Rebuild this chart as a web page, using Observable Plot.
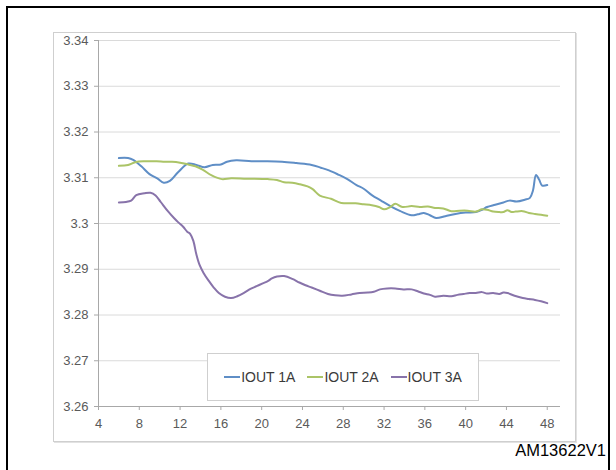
<!DOCTYPE html>
<html>
<head>
<meta charset="utf-8">
<script src="https://cdn.jsdelivr.net/npm/d3@7"></script>
<script src="https://cdn.jsdelivr.net/npm/@observablehq/plot@0.6"></script>
<style>
  html, body { margin: 0; padding: 0; background: #fff; }
  #page { position: relative; width: 616px; height: 470px; overflow: hidden; font-family: "Liberation Sans", Arial, sans-serif; }
  #frame { position: absolute; left: 6px; top: 6px; width: 604px; height: 480px; border: 2px solid #000; box-sizing: border-box; }
  #box { position: absolute; left: 53px; top: 32px; width: 523px; height: 410px; border: 1px solid #cfcfcf; box-shadow: 1px 1px 0 #e2e2e2; box-sizing: border-box; }
  #chart { position: absolute; left: 53px; top: 32px; }
  #legend { position: absolute; left: 207px; top: 353px; width: 272px; height: 48px; background: #fff; border: 1px solid #cfcfcf; box-sizing: border-box; display: flex; align-items: center; justify-content: center; gap: 12px; font-size: 14px; color: #3a3a3a; }
  #legend .item { display: flex; align-items: center; white-space: nowrap; }
  #legend .sw { display: inline-block; width: 16px; height: 2px; margin-right: 1px; }
  #code { position: absolute; right: 10px; top: 441px; font-size: 16.5px; color: #000; }
</style>
</head>
<body>
<div id="page">
  <div id="frame"></div>
  <div id="box"></div>
  <div id="chart"></div>
  <div id="legend"></div>
  <div id="code">AM13622V1</div>
</div>
<script>
const seriesNames = ["IOUT 1A", "IOUT 2A", "IOUT 3A"];
const seriesColors = ["#5f8ec6", "#abc467", "#8873aa"];

const xTicks = [4, 8, 12, 16, 20, 24, 28, 32, 36, 40, 44, 48];
const yTicks = [3.26, 3.27, 3.28, 3.29, 3.3, 3.31, 3.32, 3.33, 3.34];
const yTickLabels = ["3.26", "3.27", "3.28", "3.29", "3.3", "3.31", "3.32", "3.33", "3.34"];

const iout1A_x = [6, 6.9, 7.4, 8.2, 9.0, 9.8, 10.4, 11.0, 11.8, 12.8, 13.6, 14.4, 15.2, 16.0, 16.6, 17.5, 19.0, 20.5, 22.0, 23.4, 24.9, 25.8, 26.6, 27.5, 28.4, 29.3, 30.0, 30.8, 31.7, 32.7, 33.6, 34.7, 35.3, 35.9, 36.5, 37.1, 38.0, 39.0, 40.0, 41.0, 41.6, 42.1, 42.9, 43.7, 44.3, 45.0, 45.8, 46.3, 46.6, 46.9, 47.2, 47.5, 48];
const iout1A_y = [3.3143, 3.3143, 3.3139, 3.3125, 3.3108, 3.3098, 3.3089, 3.3093, 3.3112, 3.3131, 3.3128, 3.3123, 3.3128, 3.3129, 3.3135, 3.3138, 3.3136, 3.3136, 3.3135, 3.3132, 3.3128, 3.3122, 3.3116, 3.3107, 3.3097, 3.3084, 3.3076, 3.3062, 3.3050, 3.3037, 3.3027, 3.3018, 3.3020, 3.3023, 3.3018, 3.3012, 3.3016, 3.3021, 3.3024, 3.3025, 3.3030, 3.3036, 3.3041, 3.3046, 3.3050, 3.3048, 3.3052, 3.3056, 3.3072, 3.3106, 3.3096, 3.3083, 3.3084];

const iout2A_x = [6, 6.9, 7.6, 8.5, 9.7, 10.5, 11.2, 12.0, 12.8, 13.5, 14.2, 15.1, 16.1, 17.0, 18.5, 20.6, 21.5, 22.2, 23.0, 23.7, 24.5, 25.0, 25.7, 26.8, 27.8, 29.2, 30.0, 30.8, 31.5, 32.0, 32.6, 33.1, 33.8, 34.7, 35.5, 36.3, 37.0, 37.8, 38.6, 39.4, 40.2, 41.0, 41.6, 42.1, 42.7, 43.3, 43.7, 44.1, 44.5, 44.9, 45.6, 46.2, 46.8, 47.4, 48];
const iout2A_y = [3.3126, 3.3128, 3.3134, 3.3136, 3.3136, 3.3135, 3.3135, 3.3133, 3.3129, 3.3125, 3.3118, 3.3105, 3.3097, 3.3099, 3.3098, 3.3097, 3.3095, 3.3090, 3.3089, 3.3086, 3.3081, 3.3075, 3.3061, 3.3054, 3.3045, 3.3044, 3.3042, 3.3040, 3.3036, 3.3031, 3.3036, 3.3043, 3.3036, 3.3038, 3.3036, 3.3037, 3.3034, 3.3033, 3.3027, 3.3028, 3.3028, 3.3026, 3.3031, 3.3030, 3.3026, 3.3025, 3.3025, 3.3029, 3.3025, 3.3026, 3.3027, 3.3023, 3.3021, 3.3019, 3.3017];

const iout3A_x = [6, 6.7, 7.2, 7.7, 8.5, 9.1, 9.6, 10.1, 10.8, 11.4, 11.8, 12.3, 12.7, 13.0, 13.3, 13.6, 13.9, 14.3, 14.8, 15.3, 15.8, 16.4, 17.0, 17.6, 18.3, 18.9, 19.5, 20.1, 20.6, 21.0, 21.5, 22.2, 23.0, 23.7, 24.3, 24.9, 25.7, 26.5, 27.2, 27.9, 28.8, 29.6, 30.4, 31.0, 31.6, 32.3, 33.1, 33.9, 34.7, 35.3, 35.9, 36.5, 37.0, 37.8, 38.6, 39.2, 39.8, 40.4, 41.0, 41.6, 42.1, 42.7, 43.3, 43.7, 44.1, 44.8, 45.6, 46.2, 46.8, 47.4, 48];
const iout3A_y = [3.3046, 3.3047, 3.3050, 3.3062, 3.3066, 3.3067, 3.3061, 3.3047, 3.3027, 3.3012, 3.3003, 3.2993, 3.2982, 3.2977, 3.2962, 3.2932, 3.2910, 3.2892, 3.2875, 3.2860, 3.2848, 3.2840, 3.2837, 3.2841, 3.2849, 3.2857, 3.2863, 3.2869, 3.2874, 3.2880, 3.2884, 3.2885, 3.2879, 3.2871, 3.2865, 3.2860, 3.2853, 3.2846, 3.2843, 3.2842, 3.2845, 3.2848, 3.2849, 3.2851, 3.2856, 3.2858, 3.2858, 3.2856, 3.2856, 3.2852, 3.2847, 3.2844, 3.2840, 3.2842, 3.2841, 3.2844, 3.2846, 3.2848, 3.2848, 3.2850, 3.2847, 3.2848, 3.2846, 3.2849, 3.2848, 3.2842, 3.2837, 3.2835, 3.2833, 3.2830, 3.2826];

const seriesX = [iout1A_x, iout2A_x, iout3A_x];
const seriesY = [iout1A_y, iout2A_y, iout3A_y];

const rows = seriesNames.flatMap((name, i) =>
  seriesX[i].map((x, j) => ({series: name, x, y: seriesY[i][j]}))
);

const plot = Plot.plot({
  width: 523,
  height: 410,
  marginLeft: 45,
  marginRight: 16,
  marginTop: 8,
  marginBottom: 36,
  style: {fontFamily: "'Liberation Sans', Arial, sans-serif", fontSize: "13px", color: "#5a5a5a", background: "transparent", overflow: "visible"},
  x: {domain: [4, 49.3]},
  y: {domain: [3.26, 3.34]},
  color: {domain: seriesNames, range: seriesColors},
  marks: [
    Plot.ruleY(yTicks.slice(1), {stroke: "#dadada", strokeWidth: 1}),
    Plot.ruleX([4], {stroke: "#a8a8a8", strokeWidth: 1}),
    Plot.ruleY([3.26], {stroke: "#a8a8a8", strokeWidth: 1}),
    Plot.axisY({ticks: yTicks, tickFormat: (d, i) => yTickLabels[i], tickSize: 4, tickPadding: 6, stroke: "#a8a8a8", label: null}),
    Plot.axisX({ticks: xTicks, tickSize: 4, tickPadding: 8, stroke: "#a8a8a8", label: null}),
    Plot.line(rows, {x: "x", y: "y", z: "series", stroke: "series", strokeWidth: 2, curve: "catmull-rom"})
  ]
});
document.getElementById("chart").appendChild(plot);

const legend = document.getElementById("legend");
seriesNames.forEach((name, i) => {
  const item = document.createElement("span");
  item.className = "item";
  const sw = document.createElement("span");
  sw.className = "sw";
  sw.style.background = seriesColors[i];
  item.appendChild(sw);
  item.appendChild(document.createTextNode(name));
  legend.appendChild(item);
});
</script>
</body>
</html>
